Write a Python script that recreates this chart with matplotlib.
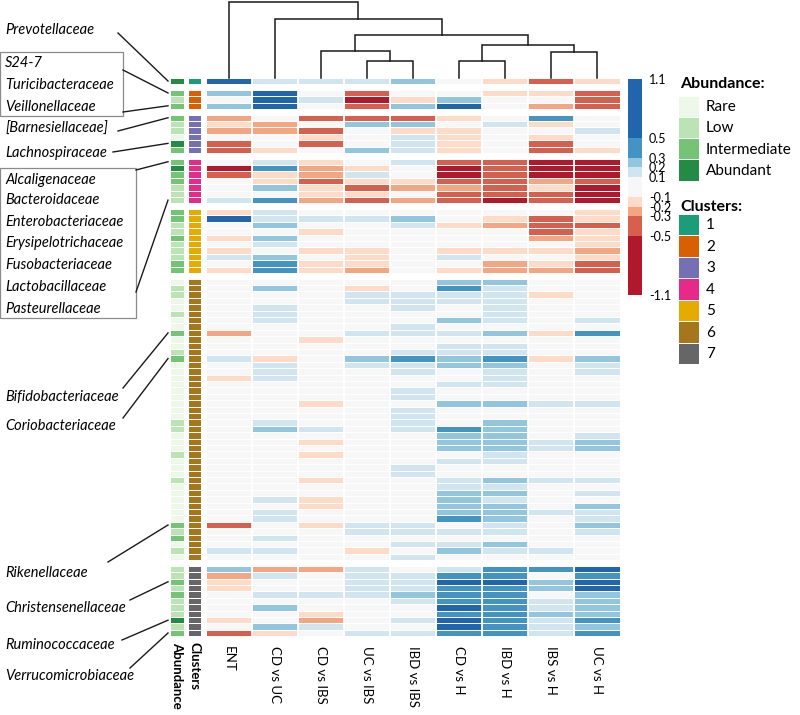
import numpy as np
import matplotlib
matplotlib.use("Agg")
import matplotlib.pyplot as plt
from matplotlib.colors import ListedColormap, BoundaryNorm
from matplotlib.patches import Rectangle
from matplotlib.lines import Line2D

plt.rcParams['font.family'] = ['Lato', 'DejaVu Sans']

# ---------------- data ----------------
comparisons = ['ENT', 'CD vs UC', 'CD vs IBS', 'UC vs IBS', 'IBD vs IBS',
               'CD vs H', 'IBD vs H', 'IBS vs H', 'UC vs H']

fc_bounds = [-1.1, -0.5, -0.3, -0.2, -0.1, 0.1, 0.2, 0.3, 0.5, 1.1]
fc_tick_labels = ['-1.1', '-0.5', '-0.3', '-0.2', '-0.1', '0.1', '0.2', '0.3', '0.5', '1.1']
fc_colors = ['#b2182b', '#d6604d', '#f4a582', '#fddbc7', '#f7f7f7',
             '#d1e5f0', '#92c5de', '#4393c3', '#2166ac']

abundance_names = ['Rare', 'Low', 'Intermediate', 'Abundant']
abundance_colors = ['#edf8e9', '#bae4b3', '#74c476', '#238b45']
cluster_names = ['1', '2', '3', '4', '5', '6', '7']
cluster_colors = ['#1b9e77', '#d95f02', '#7570b3', '#e7298a', '#e6ab02', '#a6761d', '#666666']

cluster1_fc = [
    [0.8, 0.15, 0.15, 0.15, 0.25, 0, -0.15, -0.4, -0.15],
]
cluster2_fc = [
    [0.25, 0.8, 0, -0.4, 0, 0, -0.15, -0.15, -0.4],
    [0, 0.8, 0.15, -0.8, -0.15, 0.25, 0, 0, -0.4],
    [0.25, 0.8, 0, -0.4, 0.25, 0.8, 0, -0.25, -0.4],
]
cluster3_fc = [
    [-0.25, 0, -0.4, -0.4, -0.4, -0.15, 0, 0.4, 0],
    [-0.15, -0.25, 0, 0.25, 0.25, 0, 0.15, -0.15, 0],
    [-0.25, -0.25, -0.4, 0, -0.15, -0.15, 0, 0, 0.15],
    [0, 0, -0.15, 0, 0.15, -0.15, 0, -0.15, 0],
    [-0.4, 0, -0.4, 0, 0.15, -0.15, 0, -0.4, 0],
    [-0.4, -0.15, 0, 0.25, 0.15, -0.15, 0, -0.4, -0.15],
]
cluster4_fc = [
    [0, 0.15, -0.15, 0, 0.15, -0.4, -0.4, -0.8, -0.8],
    [-0.8, 0.4, -0.25, -0.15, 0, -0.8, -0.4, -0.8, -0.8],
    [-0.4, -0.15, -0.25, 0.15, 0, -0.8, -0.4, -0.8, -0.8],
    [0, -0.15, -0.4, -0.15, -0.15, -0.4, -0.4, -0.25, -0.4],
    [0, 0.25, -0.15, -0.4, -0.25, -0.25, -0.4, -0.15, -0.8],
    [0, 0, -0.15, -0.15, 0, -0.4, -0.4, -0.4, -0.8],
    [0.15, 0.4, -0.25, -0.4, -0.25, -0.4, -0.8, -0.4, -0.8],
]
cluster5_fc = [
    [-0.15, 0.15, 0, 0, 0, 0, 0, 0, -0.15],
    [0.8, 0.15, 0.15, 0.15, 0.25, 0, -0.15, -0.4, -0.15],
    [0, 0.25, 0, 0, 0.15, -0.15, -0.25, -0.4, -0.4],
    [0, 0, -0.15, 0, 0, 0, 0, -0.4, -0.15],
    [-0.15, 0.25, 0, 0, 0, 0, 0, -0.25, -0.15],
    [0, 0.15, 0, 0, 0, 0, 0, 0, -0.15],
    [-0.15, 0, -0.15, -0.15, 0, -0.15, -0.15, -0.15, -0.25],
    [0.15, 0.25, 0, -0.15, 0, 0.15, 0, 0, -0.15],
    [0, 0.4, -0.15, -0.15, 0, 0, -0.25, -0.15, -0.4],
    [-0.15, 0.4, -0.15, -0.25, 0, -0.15, -0.25, -0.25, -0.4],
]
cluster6_fc = [
    [0, 0, 0, 0, 0, 0.25, 0.25, 0, 0],
    [0, 0.25, 0, -0.15, 0, 0.4, 0.15, 0, 0],
    [0, 0, 0, 0.15, 0.15, 0.15, 0.15, -0.15, 0],
    [0, 0, 0, 0.15, 0.15, 0.15, 0.15, 0, 0],
    [0, 0.15, 0, 0, 0.15, 0, 0.15, 0, 0],
    [0, 0.15, 0, 0, 0, 0, 0.15, 0, 0],
    [0, 0.15, 0, 0, 0, 0.25, 0.15, 0, 0.15],
    [0, 0, 0, 0, 0.15, 0, 0, 0, 0],
    [-0.25, 0, 0, 0.15, 0.15, 0.15, 0.25, -0.15, 0.4],
    [0, 0, -0.15, 0, 0, 0, 0, 0, 0],
    [0, 0, 0, 0, 0, 0.15, 0.15, 0, 0],
    [0, 0, 0, 0, 0.15, 0.15, 0.15, 0, 0],
    [0.15, -0.15, 0, 0.25, 0.4, 0.25, 0.4, -0.15, 0.25],
    [0, 0.15, 0, 0.15, 0.15, 0.25, 0.25, 0, 0.15],
    [0, 0.15, 0, 0, 0.15, 0, 0.15, 0, 0.15],
    [-0.15, 0.15, 0, 0, 0, 0, 0.15, 0, 0],
    [0, 0, 0, 0, 0, 0.15, 0.15, 0, 0],
    [0, 0, 0, 0, 0.15, 0, 0, 0, 0],
    [0, 0, 0, 0, 0.15, 0, 0, 0, 0],
    [0, 0, -0.15, 0, 0, 0.25, 0.25, 0.15, 0.15],
    [0, 0, 0, 0, 0.15, 0, 0, 0, 0],
    [0, 0, 0, 0, 0.15, 0, 0, 0, 0],
    [0, 0.15, 0, 0, 0.15, 0, 0.25, 0, 0],
    [0, 0.25, 0.15, 0, 0.15, 0.4, 0.25, 0, 0],
    [0, 0, 0, 0, 0, 0.25, 0.25, 0, 0.15],
    [0, 0, -0.15, 0, 0, 0.25, 0.25, 0.15, 0.25],
    [0, 0, 0, 0, 0, 0.25, 0.25, 0.15, 0.25],
    [0, 0, -0.15, 0, 0, 0, 0.15, 0, 0],
    [0, 0, 0, 0, 0, 0.15, 0.15, 0, 0],
    [0, 0, 0, 0, 0.15, 0, 0, 0, 0],
    [0, 0, 0, 0, 0.15, 0, 0, 0, 0],
    [0, 0, -0.15, 0, 0, 0.15, 0.25, 0.15, 0.15],
    [0, 0, 0, 0, 0, 0.15, 0.15, 0, 0],
    [0, 0, 0, 0, 0, 0.25, 0.25, 0, 0.15],
    [0, 0.15, -0.15, 0, 0, 0.25, 0.15, 0, 0],
    [0, 0, -0.15, 0, 0, 0.25, 0.25, 0, 0.25],
    [0, 0.15, 0, 0, 0, 0.25, 0.25, 0.15, 0.15],
    [0, 0.15, 0, 0, 0, 0.4, 0.25, 0, 0.15],
    [-0.4, 0, -0.15, 0.15, 0.15, 0, 0.15, 0, 0.25],
    [0, 0, 0, 0.15, 0.15, 0.15, 0.15, 0, 0.15],
    [0, 0.15, 0, 0, 0, 0, 0, 0, 0],
    [0, 0, 0, 0, 0.15, 0.15, 0.25, 0, 0],
    [0.15, 0.15, 0, -0.15, 0, 0.25, 0.15, 0.15, 0],
    [0, 0, 0, 0, 0.15, 0, 0, 0, 0],
]
cluster7_fc = [
    [0.25, -0.25, -0.25, 0.15, 0, 0.15, 0.4, 0.4, 0.8],
    [-0.25, 0.15, 0, 0.15, 0.15, 0.4, 0.4, 0, 0.4],
    [-0.15, 0, 0, 0.15, 0.15, 0.8, 0.8, 0.25, 0.8],
    [-0.15, 0, 0, 0.15, 0.15, 0.4, 0.4, 0.25, 0.8],
    [0, 0.15, 0.15, 0.15, 0.25, 0.4, 0.4, 0, 0.25],
    [0, 0, 0, 0, 0.15, 0.4, 0.4, 0.15, 0.25],
    [0, 0.25, 0, 0, 0, 0.8, 0.4, 0.15, 0.25],
    [0, 0, -0.15, 0, 0, 0.4, 0.4, 0.25, 0.25],
    [-0.15, 0, -0.25, 0, 0.15, 0.8, 0.4, 0.15, 0.4],
    [0, 0.25, 0.15, 0, 0, 0.8, 0.4, 0.15, 0.25],
    [-0.4, -0.15, 0, 0.15, 0.15, 0.4, 0.4, 0.15, 0.4],
]

# abundance class per row (0 Rare, 1 Low, 2 Intermediate, 3 Abundant)
cluster1_abund = [3]
cluster2_abund = [2, 1, 2]
cluster3_abund = [2, 1, 1, 0, 3, 2]
cluster4_abund = [2, 3, 2, 2, 1, 1, 1]
cluster5_abund = [2, 2, 1, 1, 2, 1, 1, 1, 2, 2]
cluster6_abund = [0, 1, 1, 0, 0, 1, 0, 0, 2, 0, 0, 1, 2, 0, 0, 0, 0, 0, 0, 0, 0, 0,
                  1, 1, 0, 0, 0, 1, 0, 0, 0, 1, 0, 0, 0, 0, 0, 0, 2, 1, 2, 0, 1, 0]
cluster7_abund = [1, 1, 2, 1, 2, 1, 1, 1, 3, 1, 2]

# column dendrogram merges: (left node, right node, height)
col_linkage = [(3, 4, 0.225), (5, 6, 0.221), (7, 8, 0.343), (2, 9, 0.356),
               (10, 11, 0.427), (12, 13, 0.562), (1, 14, 0.773), (0, 15, 1.0)]

# family labels: (text, label y px)
family_labels = [
    ('Prevotellaceae', 30), ('S24-7', 63), ('Turicibacteraceae', 85), ('Veillonellaceae', 107),
    ('[Barnesiellaceae]', 129), ('Lachnospiraceae', 153),
    ('Alcaligenaceae', 180), ('Bacteroidaceae', 200), ('Enterobacteriaceae', 222),
    ('Erysipelotrichaceae', 243), ('Fusobacteriaceae', 265), ('Lactobacillaceae', 287),
    ('Pasteurellaceae', 309), ('Bifidobacteriaceae', 397), ('Coriobacteriaceae', 426),
    ('Rikenellaceae', 573), ('Christensenellaceae', 608), ('Ruminococcaceae', 645),
    ('Verrucomicrobiaceae', 676),
]
# pointer lines: (start x px, start y px, cluster index, row in cluster)
pointers = [
    (118, 33, 0, 0), (123, 70, 1, 0), (123, 112, 1, 2), (118, 131, 2, 0), (113, 152, 2, 4),
    (136, 170, 3, 0), (136, 292, 3, 6), (123, 388, 5, 8), (123, 418, 5, 12),
    (108, 562, 5, 38), (130, 600, 6, 2), (122, 640, 6, 8), (130, 668, 6, 10),
]
boxes = [(0, 52, 123, 116), (0, 168, 136, 318)]

# ---------------- figure ----------------
W, H = 800, 715
fig = plt.figure(figsize=(W / 100, H / 100), dpi=100)
def fx(px): return px / W
def fy(py): return 1 - py / H

cluster_fc = [cluster1_fc, cluster2_fc, cluster3_fc, cluster4_fc, cluster5_fc, cluster6_fc, cluster7_fc]
cluster_ab = [cluster1_abund, cluster2_abund, cluster3_abund, cluster4_abund,
              cluster5_abund, cluster6_abund, cluster7_abund]
GAP = 0.87
starts = []
yy = 0.0
for rows in cluster_fc:
    starts.append(yy)
    yy += len(rows) + GAP
total = yy - GAP

hm_left, hm_right = 206, 620
top_px, bot_px = 77.8, 636.2
col_w = (hm_right - hm_left) / 9
ab_left_px = 170
x0 = (ab_left_px - hm_left) / col_w
ax = fig.add_axes([fx(ab_left_px), fy(bot_px), (hm_right - ab_left_px) / W, (bot_px - top_px) / H])
ax.set_xlim(x0, 9)
ax.set_ylim(total, 0)
ax.axis('off')
row_px = (bot_px - top_px) / total

cmap = ListedColormap(fc_colors)
norm = BoundaryNorm(fc_bounds, cmap.N)
ab_cmap = ListedColormap(abundance_colors)
ab_norm = BoundaryNorm(np.arange(-0.5, 4.5), 4)
cl_cmap = ListedColormap(cluster_colors)
cl_norm = BoundaryNorm(np.arange(-0.5, 7.5), 7)
ab_x = [(170 - hm_left) / col_w, (184 - hm_left) / col_w]
cl_x = [(188 - hm_left) / col_w, (201 - hm_left) / col_w]

for k in range(7):
    vals = np.array(cluster_fc[k], dtype=float)
    n = len(vals)
    yedges = starts[k] + np.arange(n + 1)
    ax.pcolormesh(np.arange(10), yedges, vals, cmap=cmap, norm=norm,
                  edgecolors='white', linewidth=0.55)
    ax.vlines(np.arange(1, 9), yedges[0], yedges[-1], colors='white', linewidth=1.3)
    ax.pcolormesh(ab_x, yedges, np.array(cluster_ab[k])[:, None], cmap=ab_cmap, norm=ab_norm,
                  edgecolors='white', linewidth=0.55)
    ax.pcolormesh(cl_x, yedges, np.full((n, 1), k), cmap=cl_cmap, norm=cl_norm,
                  edgecolors='white', linewidth=0.55)

# dendrogram
dax = fig.add_axes([fx(hm_left), fy(top_px), (hm_right - hm_left) / W, (top_px - 1.5) / H])
dax.set_xlim(0, 9)
dax.set_ylim(0, 1.0)
dax.axis('off')
pos = {i: i + 0.5 for i in range(9)}
hgt = {i: 0.0 for i in range(9)}
node = 9
for a, b, h in col_linkage:
    xa, xb = pos[a], pos[b]
    dax.plot([xa, xa, xb, xb], [hgt[a], h, h, hgt[b]], color='#1a1a1a', lw=1.1,
             clip_on=False, solid_joinstyle='miter')
    pos[node] = (xa + xb) / 2
    hgt[node] = h
    node += 1

# colorbar
cax = fig.add_axes([fx(628), fy(295), 14 / W, 216 / H])
sm = plt.cm.ScalarMappable(norm=norm, cmap=cmap)
cb = fig.colorbar(sm, cax=cax, boundaries=fc_bounds, spacing='proportional', ticks=fc_bounds)
cb.outline.set_visible(False)
cb.ax.tick_params(length=0, pad=5, labelsize=9)
cb.set_ticklabels(fc_tick_labels)

# legends
def legend_block(title, title_y, names, colors, first_top, pitch):
    fig.text(fx(680), fy(title_y), title, fontsize=11.5, fontweight='bold', va='center', ha='left')
    for i, (nm, c) in enumerate(zip(names, colors)):
        top = first_top + i * pitch
        fig.add_artist(Rectangle((fx(679), fy(top + pitch - 0.8)), 20 / W, (pitch - 0.8) / H,
                                 transform=fig.transFigure, facecolor=c, edgecolor='none'))
        fig.text(fx(706), fy(top + pitch / 2), nm, fontsize=11, va='center', ha='left')

legend_block('Abundance:', 84, abundance_names, abundance_colors, 96.5, 21.2)
legend_block('Clusters:', 207, cluster_names, cluster_colors, 214.5, 21.5)

# column labels
for j, name in enumerate(comparisons):
    cx = hm_left + (j + 0.5) * col_w
    fig.text(fx(cx), fy(646), name, rotation=270, ha='center', va='top', fontsize=9.5)
fig.text(fx(177), fy(642), 'Abundance', rotation=270, ha='center', va='top', fontsize=9.5, fontweight='bold')
fig.text(fx(194.5), fy(642), 'Clusters', rotation=270, ha='center', va='top', fontsize=9.5, fontweight='bold')

# family labels
for txt, ly in family_labels:
    fig.text(fx(5), fy(ly), txt, style='italic', fontsize=10.5, va='center', ha='left')
for (x0b, y0b, x1b, y1b) in boxes:
    fig.add_artist(Rectangle((fx(x0b), fy(y1b)), (x1b - x0b) / W, (y1b - y0b) / H,
                             transform=fig.transFigure, facecolor='none', edgecolor='#8a8a8a', lw=0.9))
for sx, sy, k, r in pointers:
    ty = top_px + (starts[k] + r + 0.5) * row_px
    fig.add_artist(Line2D([fx(sx), fx(168)], [fy(sy), fy(ty)], transform=fig.transFigure,
                          color='#1a1a1a', lw=1.0))

fig.savefig('out.png', dpi=100)
